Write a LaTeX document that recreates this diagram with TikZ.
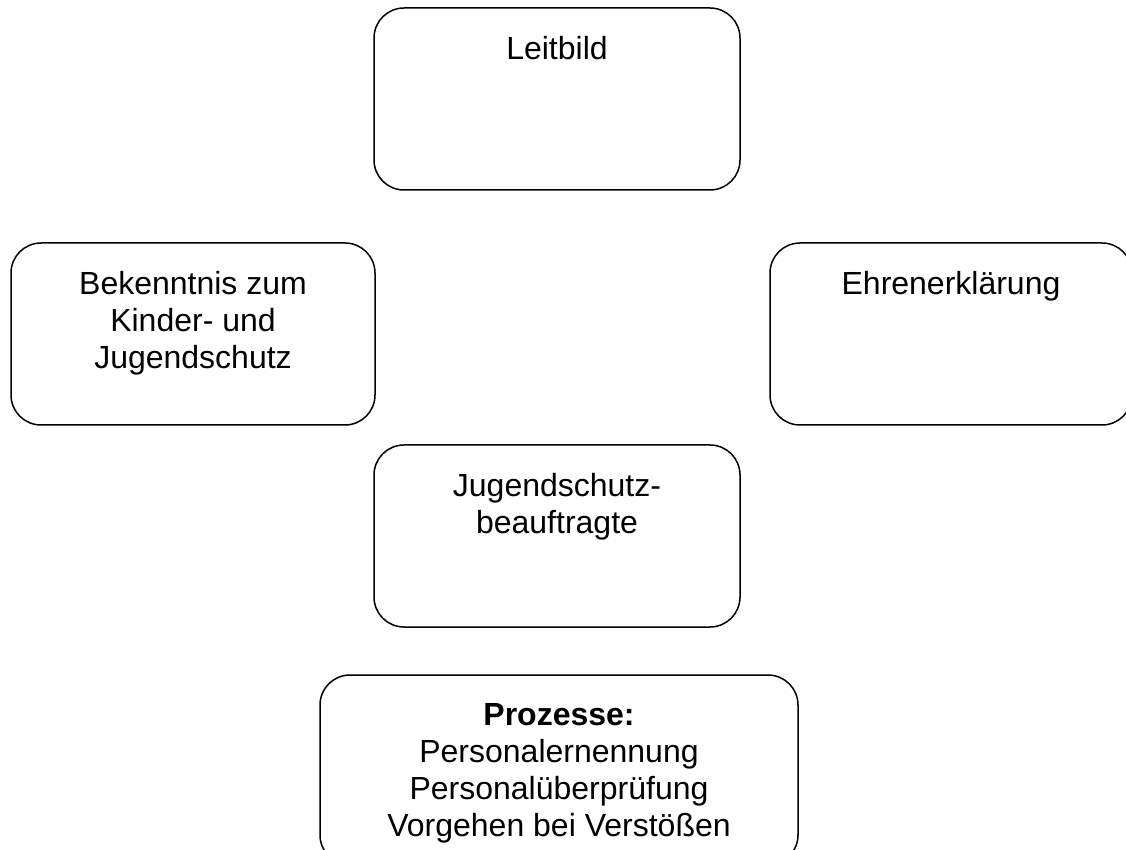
\documentclass[tikz,border=0pt]{standalone}
\usepackage{fontspec}
\setmainfont{Liberation Sans}
\usetikzlibrary{positioning}
\tikzstyle{box} = [rectangle, rounded corners=30pt, draw=black, line width=1.5pt, fill=white]
\tikzstyle{boxtext} = [inner sep=0pt, align=center, font=\fontsize{32}{37}\selectfont]

\begin{document}
\begin{tikzpicture}[x=1pt, y=1pt, node distance=29pt]
\useasboundingbox (0,0) rectangle (1126,849);
\clip (0,0) rectangle (1126,849);

% Leitbild (top)
\node (leitbild) [box, minimum width=366pt, minimum height=182pt] at (557,750) {};
\node (leitbildtext) [boxtext, below=of leitbild.north] {Leitbild};

% Bekenntnis (left)
\node (bekenntnis) [box, minimum width=364pt, minimum height=182pt] at (193,515) {};
\node (bekenntnistext) [boxtext, below=of bekenntnis.north] {Bekenntnis zum\\Kinder- und\\Jugendschutz};

% Ehrenerklaerung (right)
\node (ehren) [box, minimum width=362pt, minimum height=182pt] at (951,515) {};
\node (ehrentext) [boxtext, below=of ehren.north] {Ehrenerklärung};

% Jugendschutzbeauftragte (middle)
\node (beauftragte) [box, minimum width=366pt, minimum height=182pt] at (557,313) {};
\node (beauftragtetext) [boxtext, below=of beauftragte.north] {Jugendschutz-\\beauftragte};

% Prozesse (bottom)
\node (prozesse) [box, minimum width=478pt, minimum height=190pt] at (559,79) {};
\node (prozessetext) [boxtext, below=of prozesse.north] {\textbf{Prozesse:}\\Personalernennung\\Personalüberprüfung\\Vorgehen bei Verstößen};
\end{tikzpicture}
\end{document}
